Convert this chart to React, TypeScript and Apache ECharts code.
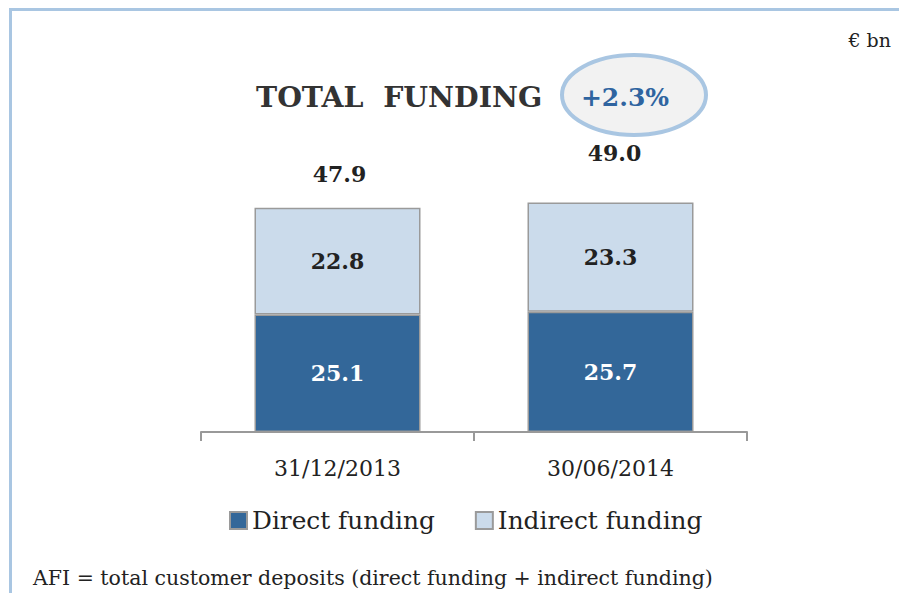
import React, { useEffect, useRef } from "react";
import * as echarts from "echarts";

const categories = ["31/12/2013", "30/06/2014"];
const directFunding = [25.1, 25.7];
const indirectFunding = [22.8, 23.3];
const totals = [47.9, 49.0];
const seriesNames = ["Direct funding", "Indirect funding"];
const growthLabel = "+2.3%";
const titleText = "TOTAL  FUNDING";
const unitText = "€ bn";
const footnoteText = "AFI = total customer deposits (direct funding + indirect funding)";

const FONT = "'DejaVu Serif', 'Liberation Serif', serif";

export default function App() {
  const ref = useRef<HTMLDivElement>(null);
  useEffect(() => {
    if (!ref.current) return;
    const chart = echarts.init(ref.current, null, { renderer: "svg" });
    const totalOffsets = [
      [2, -34],
      [4, -50],
    ];
    chart.setOption({
      animation: false,
      backgroundColor: "#ffffff",
      textStyle: { fontFamily: FONT },
      grid: { left: 201, right: 152, top: 151, bottom: 161 },
      xAxis: {
        type: "category",
        data: categories,
        axisLine: { lineStyle: { color: "#999999", width: 2 } },
        axisTick: { show: true, length: 9, lineStyle: { color: "#999999", width: 2 } },
        axisLabel: { fontSize: 22, color: "#222222", margin: 25, fontFamily: FONT },
      },
      yAxis: { type: "value", min: 0, max: 60, show: false, splitLine: { show: false } },
      legend: {
        data: seriesNames,
        left: 224,
        top: 503,
        icon: "rect",
        itemWidth: 17,
        itemHeight: 17,
        itemGap: 40,
        textStyle: { fontSize: 24.8, color: "#222222", fontFamily: FONT },
      },
      series: [
        {
          name: seriesNames[0],
          type: "bar",
          stack: "total",
          barWidth: 166,
          data: directFunding,
          itemStyle: { color: "#336799", borderColor: "#9a9a9a", borderWidth: 1.5 },
          label: {
            show: true,
            position: "inside",
            color: "#ffffff",
            fontSize: 22,
            fontWeight: "bold",
            fontFamily: FONT,
            formatter: (p: any) => p.value.toFixed(1),
          },
        },
        {
          name: seriesNames[1],
          type: "bar",
          stack: "total",
          barWidth: 166,
          data: indirectFunding,
          itemStyle: { color: "#CBDBEB", borderColor: "#9a9a9a", borderWidth: 1.5 },
          label: {
            show: true,
            position: "inside",
            color: "#222222",
            fontSize: 22,
            fontWeight: "bold",
            fontFamily: FONT,
            formatter: (p: any) => p.value.toFixed(1),
          },
        },
        {
          name: "Total",
          type: "scatter",
          symbolSize: 1,
          itemStyle: { color: "rgba(0,0,0,0)", opacity: 1 },
          data: totals.map((v, i) => ({
            value: v,
            label: { offset: totalOffsets[i] },
          })),
          label: {
            show: true,
            position: "inside",
            color: "#222222",
            opacity: 1,
            fontSize: 22,
            fontWeight: "bold",
            fontFamily: FONT,
            formatter: (p: any) => Number(p.value).toFixed(1),
          },
          z: 5,
        },
      ],
      graphic: [
        {
          type: "rect",
          shape: { x: 10.5, y: 9.5, width: 1000, height: 1000 },
          style: { fill: "none", stroke: "#a9c6e2", lineWidth: 3 },
          silent: true,
        },
        {
          type: "text",
          x: 256,
          y: 97,
          style: {
            text: titleText,
            fontSize: 28.4,
            fontWeight: "bold",
            fontFamily: FONT,
            fill: "#333333",
            verticalAlign: "middle",
            align: "left",
          },
        },
        {
          type: "ellipse",
          shape: { cx: 634, cy: 95, rx: 72, ry: 40 },
          style: { fill: "#f2f2f2", stroke: "#a9c6e2", lineWidth: 4 },
        },
        {
          type: "text",
          x: 625,
          y: 97,
          style: {
            text: growthLabel,
            fontSize: 25,
            fontWeight: "bold",
            fontFamily: FONT,
            fill: "#2f64a0",
            align: "center",
            verticalAlign: "middle",
          },
        },
        {
          type: "text",
          x: 891,
          y: 40,
          style: {
            text: unitText,
            fontSize: 19,
            fontFamily: FONT,
            fill: "#222222",
            align: "right",
            verticalAlign: "middle",
          },
        },
        {
          type: "text",
          x: 33,
          y: 578,
          style: {
            text: footnoteText,
            fontSize: 20.5,
            fontFamily: FONT,
            fill: "#222222",
            align: "left",
            verticalAlign: "middle",
          },
        },
      ],
    });
    return () => chart.dispose();
  }, []);
  return (
    <div
      ref={ref}
      style={{ position: "fixed", left: 0, top: 0, width: 899, height: 593 }}
    />
  );
}
